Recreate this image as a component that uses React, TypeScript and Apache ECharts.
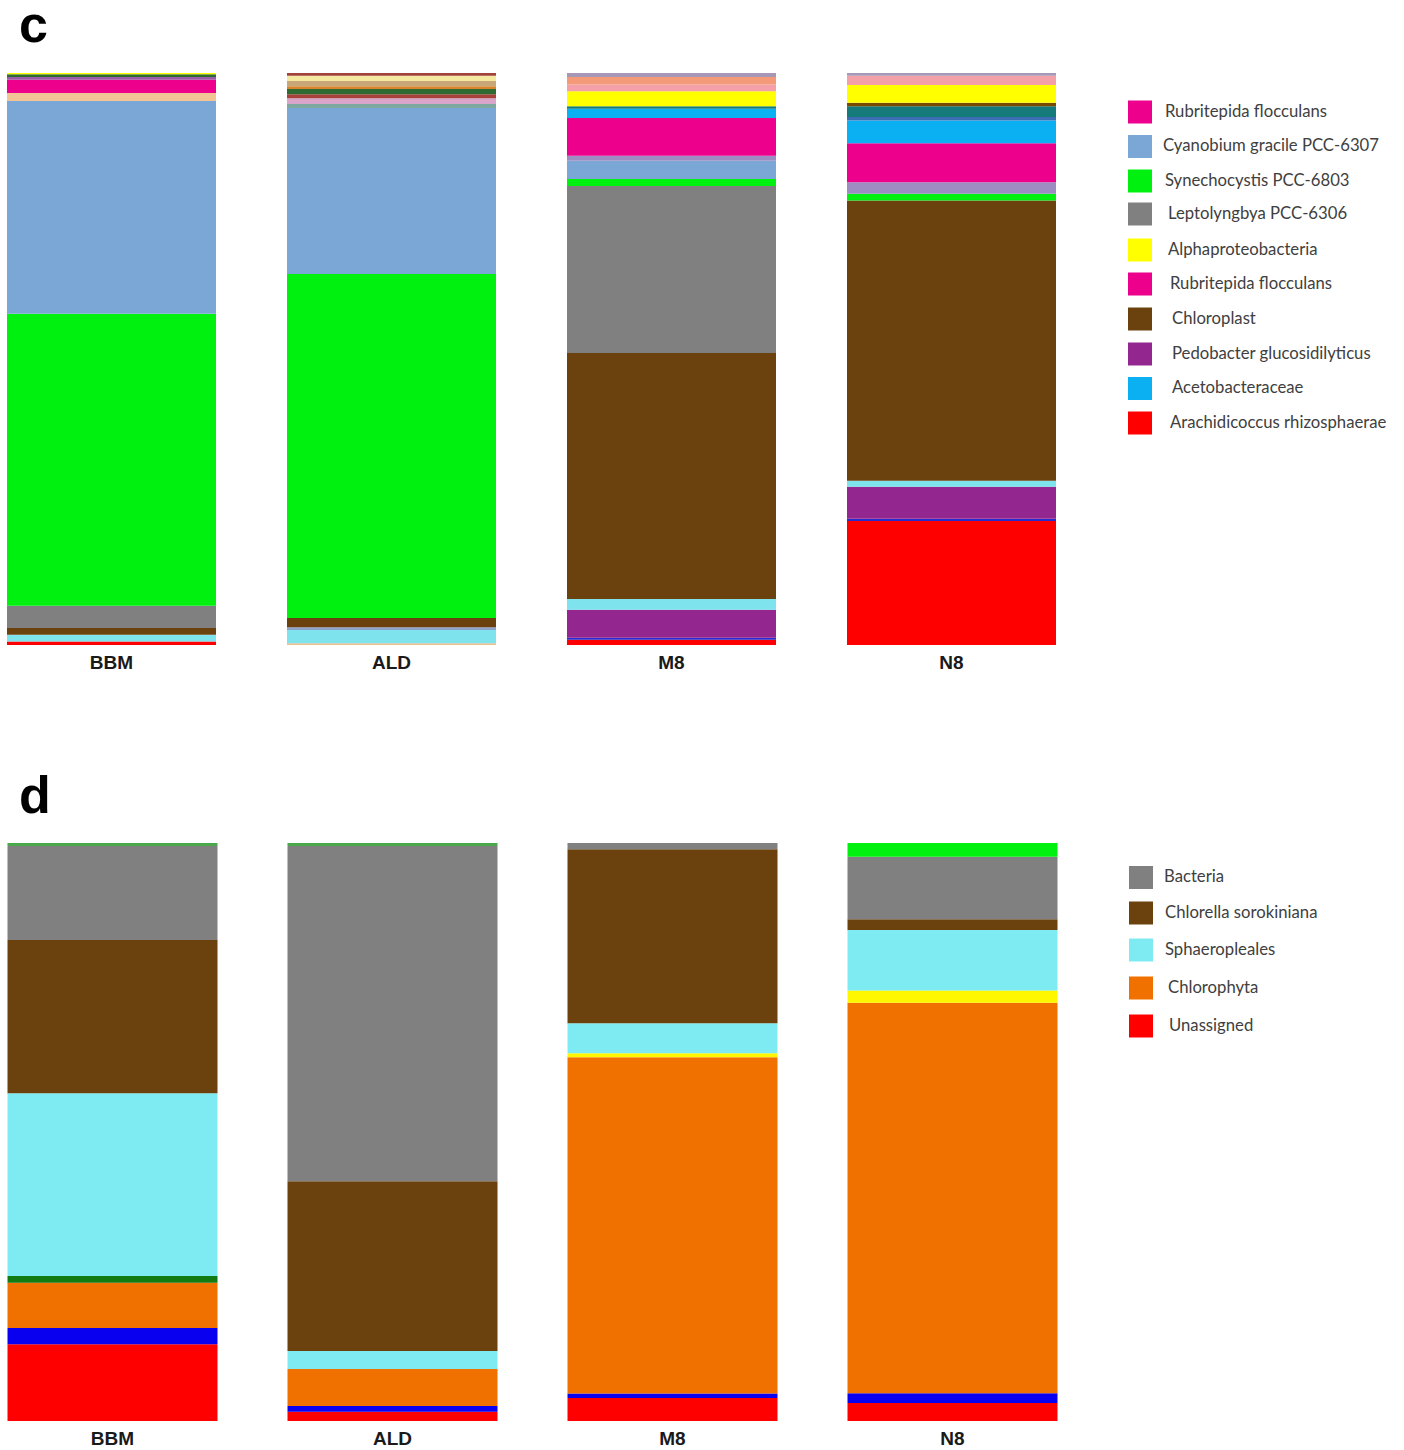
import React, { useEffect, useRef } from 'react';
import * as echarts from 'echarts';

const categories = ['BBM', 'ALD', 'M8', 'N8'];

// ---- Panel c: relative abundance (%) per sample [BBM, ALD, M8, N8], stacked bottom -> top
const cSand = [0, 0.3, 0, 0];
const cArachidicoccus = [0.6, 0, 0.9, 21.7];
const cBlueLine = [0, 0, 0.35, 0.35];
const cPedobacter = [0, 0, 4.9, 5.6];
const cAqua = [1.2, 2.3, 1.9, 1.05];
const cSlate = [0, 0.5, 0, 0];
const cChloroplast = [1.2, 1.6, 43.0, 49.0];
const cLeptolyngbya = [3.9, 0, 29.2, 0];
const cSynechocystis = [51.2, 60.1, 1.2, 1.2];
const cCyanobium = [37.3, 29.0, 3.2, 0];
const cTealGrey = [0, 0.7, 0, 0];
const cLavender = [0, 0, 0.9, 2.0];
const cLilac = [0, 1.0, 0, 0];
const cPeach = [1.4, 0, 0, 0];
const cRubritepida = [2.3, 0, 6.6, 6.8];
const cPlum = [0.5, 0, 0, 0];
const cAcetobacteraceae = [0, 0, 1.6, 4.0];
const cSteel = [0, 0, 0, 0.6];
const cTeal = [0, 0, 0.45, 1.9];
const cRedBrown = [0, 0.7, 0, 0];
const cDarkGreen = [0.5, 0.9, 0, 0];
const cUmber = [0, 0, 0, 0.6];
const cOrange = [0, 0.5, 0, 0];
const cAlphaproteobacteria = [0.2, 0, 2.6, 3.1];
const cTan = [0, 0.9, 0, 0];
const cCream = [0, 0.9, 0, 0];
const cRose = [0, 0, 1.2, 1.6];
const cSalmon = [0, 0, 1.3, 0];
const cMauve = [0, 0, 0.7, 0.5];
const cMaroon = [0, 0.5, 0, 0];

// ---- Panel d
const dUnassigned = [13.3, 1.6, 4.0, 3.1];
const dBlue = [2.8, 1.0, 0.75, 1.7];
const dChlorophyta = [7.8, 6.4, 58.2, 67.6];
const dDarkGreen = [1.2, 0, 0, 0];
const dYellow = [0, 0, 0.7, 2.1];
const dSphaeropleales = [31.6, 3.1, 5.2, 10.5];
const dChlorella = [26.5, 29.4, 30.1, 1.85];
const dBacteria = [16.3, 58.0, 1.1, 10.8];
const dTopGreen = [0.5, 0.5, 0, 0];
const dBrightGreen = [0, 0, 0, 2.4];

const cLegendNames = [
  'Rubritepida flocculans',
  'Cyanobium gracile PCC-6307',
  'Synechocystis PCC-6803',
  'Leptolyngbya PCC-6306',
  'Alphaproteobacteria',
  'Rubritepida flocculans',
  'Chloroplast',
  'Pedobacter glucosidilyticus',
  'Acetobacteraceae',
  'Arachidicoccus rhizosphaerae',
];
const dLegendNames = ['Bacteria', 'Chlorella sorokiniana', 'Sphaeropleales', 'Chlorophyta', 'Unassigned'];

type Layer = { name: string; values: number[]; color: string };

const cLayers: Layer[] = [
  { name: 'Other 1', values: cSand, color: '#E9C08E' },
  { name: 'Arachidicoccus rhizosphaerae', values: cArachidicoccus, color: '#FF0000' },
  { name: 'Other 2', values: cBlueLine, color: '#2A2ACF' },
  { name: 'Pedobacter glucosidilyticus', values: cPedobacter, color: '#93278F' },
  { name: 'Other 3', values: cAqua, color: '#7FE3EE' },
  { name: 'Other 4', values: cSlate, color: '#8EA3C7' },
  { name: 'Chloroplast', values: cChloroplast, color: '#6B420E' },
  { name: 'Leptolyngbya PCC-6306', values: cLeptolyngbya, color: '#808080' },
  { name: 'Synechocystis PCC-6803', values: cSynechocystis, color: '#00F00F' },
  { name: 'Cyanobium gracile PCC-6307', values: cCyanobium, color: '#7BA7D6' },
  { name: 'Other 5', values: cTealGrey, color: '#7FA8A0' },
  { name: 'Other 6', values: cLavender, color: '#9C8CC2' },
  { name: 'Other 7', values: cLilac, color: '#D9A5C8' },
  { name: 'Other 8', values: cPeach, color: '#F2C394' },
  { name: 'Rubritepida flocculans', values: cRubritepida, color: '#EC008C' },
  { name: 'Other 9', values: cPlum, color: '#9B5BA8' },
  { name: 'Acetobacteraceae', values: cAcetobacteraceae, color: '#0AB0F2' },
  { name: 'Other 10', values: cSteel, color: '#3A6EB5' },
  { name: 'Other 11', values: cTeal, color: '#147A7A' },
  { name: 'Other 12', values: cRedBrown, color: '#A8413A' },
  { name: 'Other 13', values: cDarkGreen, color: '#2E6B30' },
  { name: 'Other 14', values: cUmber, color: '#7A4A00' },
  { name: 'Other 15', values: cOrange, color: '#D9852C' },
  { name: 'Alphaproteobacteria', values: cAlphaproteobacteria, color: '#FFFF00' },
  { name: 'Other 16', values: cTan, color: '#C8A878' },
  { name: 'Other 17', values: cCream, color: '#F5E9A0' },
  { name: 'Other 18', values: cRose, color: '#F4A0A8' },
  { name: 'Other 19', values: cSalmon, color: '#F49A78' },
  { name: 'Other 20', values: cMauve, color: '#A898B8' },
  { name: 'Other 21', values: cMaroon, color: '#A0443A' },
];

const dLayers: Layer[] = [
  { name: 'Unassigned', values: dUnassigned, color: '#FF0000' },
  { name: 'Other A', values: dBlue, color: '#0A00F0' },
  { name: 'Chlorophyta', values: dChlorophyta, color: '#F07000' },
  { name: 'Other B', values: dDarkGreen, color: '#127A12' },
  { name: 'Other C', values: dYellow, color: '#FFF700' },
  { name: 'Sphaeropleales', values: dSphaeropleales, color: '#7EEBF2' },
  { name: 'Chlorella sorokiniana', values: dChlorella, color: '#6B420E' },
  { name: 'Bacteria', values: dBacteria, color: '#808080' },
  { name: 'Other D', values: dTopGreen, color: '#4CA84C' },
  { name: 'Other E', values: dBrightGreen, color: '#00F00F' },
];

// the chart canvas is shifted left by OFFSET px so the first bar can sit near the page edge
const OFFSET = 40;

function buildSeries(layers: Layer[], idx: number, barWidth: number) {
  const totals = categories.map((_, i) => layers.reduce((s, l) => s + l.values[i], 0));
  return layers.map((l) => ({
    type: 'bar',
    name: l.name,
    stack: 'panel' + idx,
    xAxisIndex: idx,
    yAxisIndex: idx,
    barWidth,
    silent: true,
    itemStyle: { color: l.color },
    data: l.values.map((v, i) => (v / totals[i]) * 100),
  }));
}

function legendGraphics(names: string[], layers: Layer[], rowsY: number[], textX: number[], sqX: number) {
  const out: any[] = [];
  names.forEach((n, i) => {
    const layer = layers.find((l) => l.name === n);
    out.push({
      type: 'rect',
      shape: { x: sqX + OFFSET, y: rowsY[i] - 11.5, width: 24, height: 23 },
      style: { fill: layer ? layer.color : '#000' },
      silent: true,
    });
    out.push({
      type: 'text',
      x: textX[i] + OFFSET,
      y: rowsY[i] - 1.5,
      style: {
        text: n,
        fill: '#404040',
        font: '16.7px Lato',
        verticalAlign: 'middle',
        align: 'left',
      },
      silent: true,
    });
  });
  return out;
}

const axisLabelStyle = {
  margin: 8,
  fontSize: 19,
  fontWeight: 'bold',
  color: '#1a1a1a',
  fontFamily: 'Liberation Sans',
};

export default function App() {
  const ref = useRef<HTMLDivElement>(null);
  useEffect(() => {
    if (!ref.current) return;
    const chart = echarts.init(ref.current, undefined, { renderer: 'svg' });
    const option = {
      animation: false,
      backgroundColor: '#ffffff',
      grid: [
        { left: OFFSET - 28.5, top: 73, width: 1120, height: 572 },
        { left: OFFSET - 27.5, top: 843, width: 1120, height: 578 },
      ],
      xAxis: [0, 1].map((g) => ({
        gridIndex: g,
        type: 'category',
        data: categories,
        axisLine: { show: false },
        axisTick: { show: false },
        splitLine: { show: false },
        axisLabel: axisLabelStyle,
      })),
      yAxis: [0, 1].map((g) => ({
        gridIndex: g,
        type: 'value',
        min: 0,
        max: 100,
        show: false,
        splitLine: { show: false },
      })),
      series: [...buildSeries(cLayers, 0, 209), ...buildSeries(dLayers, 1, 210)],
      graphic: [
        {
          type: 'text',
          x: 19 + OFFSET,
          y: 24,
          style: {
            text: 'c',
            font: 'bold 52px "Liberation Sans"',
            lineHeight: 40,
            fill: '#000',
            verticalAlign: 'middle',
          },
          silent: true,
        },
        {
          type: 'text',
          x: 19 + OFFSET,
          y: 795,
          style: {
            text: 'd',
            font: 'bold 52px "Liberation Sans"',
            lineHeight: 48,
            fill: '#000',
            verticalAlign: 'middle',
          },
          silent: true,
        },
        ...legendGraphics(
          cLegendNames,
          cLayers,
          [112, 146.5, 181, 214, 250, 284, 319, 354, 388.5, 423],
          [1165, 1163, 1165, 1168, 1168, 1170, 1172, 1172, 1172, 1170],
          1128
        ),
        ...legendGraphics(
          dLegendNames,
          dLayers,
          [877.5, 913, 950, 988, 1026],
          [1164, 1165, 1165, 1168, 1169],
          1129
        ),
      ],
    };
    chart.setOption(option as any);
    return () => chart.dispose();
  }, []);
  return (
    <div
      ref={ref}
      style={{ position: 'absolute', left: -OFFSET, top: 0, width: 1404 + OFFSET, height: 1450, background: '#fff' }}
    />
  );
}
